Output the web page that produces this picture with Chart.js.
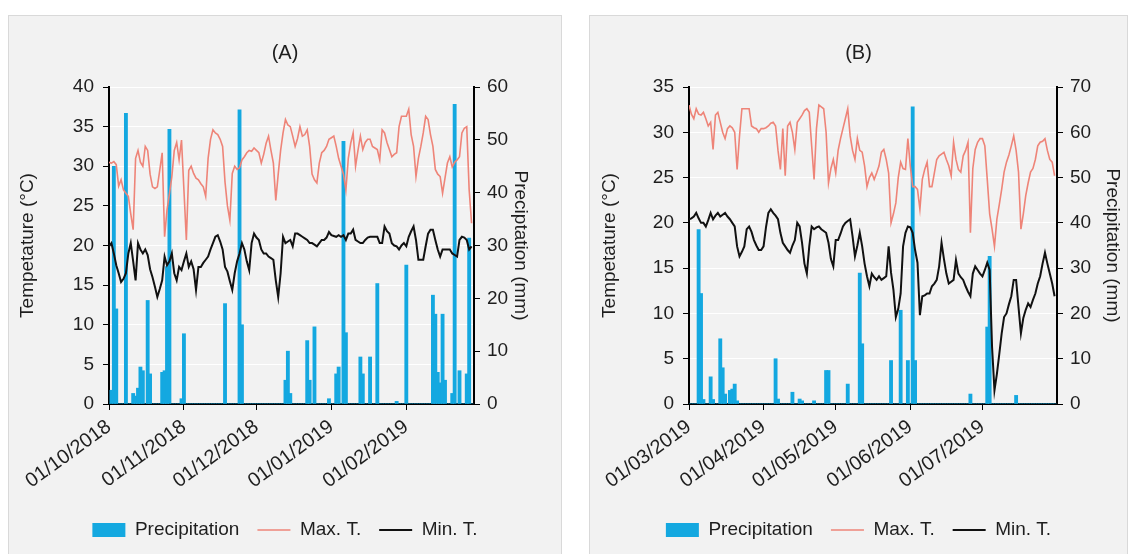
<!DOCTYPE html>
<html><head><meta charset="utf-8">
<script src="https://cdn.jsdelivr.net/npm/chart.js@4.4.1/dist/chart.umd.min.js"></script>
<style>
html,body{margin:0;padding:0;background:#fff;width:1132px;height:554px;overflow:hidden;}
.panel{position:absolute;top:15px;height:545px;background:#f2f2f2;border:1px solid #d9d9d9;box-sizing:border-box;}
#pA{left:8px;width:554px;}
#pB{left:589px;width:539px;}
canvas{position:absolute;left:0;top:0;}
</style></head><body>
<div class="panel" id="pA"><canvas id="cA" width="552" height="538"></canvas></div>
<div class="panel" id="pB"><canvas id="cB" width="537" height="538"></canvas></div>
<script>
// ---- Panel A: 01/10/2018 .. 28/02/2019 (daily) ----
const tickPosA = [0, 31, 61, 92, 123];
const tickLabelsA = ['01/10/2018', '01/11/2018', '01/12/2018', '01/01/2019', '01/02/2019'];
const precipA = [
0,2.6,45,18,0,0,0,55,0,0,
2,1.5,3,7,6.3,0,19.6,5.7,0,0,
0,0,6,6.3,26,52,0,0,0,0,
1,13.3,0,0,0,0,0,0,0,0,
0,0,0,0,0,0,0,0,19,0,
0,0,0,0,55.7,15,0,0,0,0,
0,0,0,0,0,0,0,0,0,0,
0,0,0,4.5,10,2,0,0,0,0,
0,0,12,4.5,0,14.6,0,0,0,0,
0,1,0,0,5.7,7,0,49.7,13.5,0,
0,0,0,0,8.9,5.7,0,0,8.9,0,
0,22.8,0,0,0,0,0,0,0,0.5,
0,0,0,26.3,0,0,0,0,0,0,
0,0,0,0,20.6,17,6,4,17,4.5,
0,0,2,56.7,0,6.3,0,0,5.7,31.4,0];
const maxA = [
30.5,30.4,30.6,30.2,27.5,28.3,27,26.6,26.2,24,22,31,32,30.5,30,32.5,32,29,27.4,27.2,
27.4,29.5,31.7,21.1,24.5,26.5,28.7,32,33,30.8,33.3,27,20.7,29.5,30,29.1,28.5,28.3,27.8,27.4,
26.2,31,33.4,34.6,34.2,34,33.4,32.5,28,25,23.2,29.1,30,29.6,29.8,30.8,31.2,31.7,32,31.9,
32.3,32,31.7,30.4,31.5,32.9,33.8,32,30.4,25.7,29,32,34.2,35.9,35.2,35,33.8,32.5,33.5,35,
33.8,34,34.6,32.5,29,28.3,27.9,30.4,31.7,32,32.5,33.4,33.6,33.8,32.5,31,30,29,27,31,
32.9,34.2,30,32,33.8,32.1,33,33.4,33.4,32.5,32.3,32.1,30.8,34.6,34.2,33,32.1,31.2,31.5,31.7,
35,36.3,36.3,36.3,37.2,34,32.5,28.7,31,32.5,34.2,36.3,35.9,34,32.5,29.6,29,28.7,26.6,28.5,
30.4,31.2,29.9,30.5,30.8,31.2,34.2,34.8,35,27,22.8];
const minA = [
19.9,20.3,19,17.5,16.5,15.4,15.8,16.5,19,20.3,18,15.6,20.3,19.5,19,19.5,18.8,17,16,14.8,
13.5,14.5,15.6,18.6,17.5,18,19,16.5,15.6,17.3,16.9,18,19,17.3,18,17,14.4,17.3,17.3,17.8,
18.2,18.6,19.5,20.3,21.1,21.3,20.5,19.5,17.3,16.7,15.5,14.4,16.5,18,19,20.3,19.5,18,16.9,20.3,
21.5,21,20.7,19.5,19,19,18.6,18.4,18.2,15.6,13.5,16.5,21.1,20.3,20.5,20.7,19.9,21.5,21.5,21.3,
21.1,20.9,20.7,20.3,20.3,20.1,19.9,20.3,20.7,20.7,21,21.7,21.3,21.2,21.1,21.3,21.1,21.3,20.7,21.5,
21.5,22,20.7,20.5,20.3,20.3,20.7,21,21.1,21.1,21.1,21.1,20.3,20.3,22.4,21.8,21.5,20.3,20,19.9,
19.5,20,20.3,19.9,21.1,21.8,22.4,20.7,18.2,18.2,18.2,19.9,21.5,22,22,20.7,19.5,18.6,19.5,19.5,
19.5,19.5,19,18.8,18.6,20.7,21.1,21,20.7,19.5,19.9];

// ---- Panel B: 01/03/2019 .. 31/07/2019 (daily) ----
const tickPosB = [0, 31, 61, 92, 122];
const tickLabelsB = ['01/03/2019', '01/04/2019', '01/05/2019', '01/06/2019', '01/07/2019'];
const precipB = [
0,0,0,0,38.5,24.4,1,0,0,6,
1,0,0,14.4,8,2.2,0,3,3.3,4.4,
0.7,0,0,0,0,0,0,0,0,0,
0,0,0,0,0,0,10,1.1,0,0,
0,0,0,2.6,0,0,1.1,0.7,0,0,
0,0,0.7,0,0,0,0,7.4,7.4,0,
0,0,0,0,0,0,4.4,0,0,0,
0,28.9,13.3,0,0,0,0,0,0,0,
0,0,0,0,9.6,0,0,0,20.7,0,
0,9.6,0,65.6,9.6,0,0,0,0,0,
0,0,0,0,0,0,0,0,0,0,
0,0,0,0,0,0,0,2.2,0,0,
0,0,0,0,17,32.6,0,0,0,0,
0,0,0,0,0,0,1.9,0,0,0,
0,0,0,0,0,0,0,0,0,0,0,0,0];
const maxB = [
33,32,31.5,32.6,32,31.9,32.2,31.5,30.7,31.1,28.1,31.9,32.2,31.1,30,29.3,30.4,30.7,30.5,30,
25.9,29.6,32.6,32.6,32.6,32.6,30.7,30.5,30.4,30,30.4,30.4,30.5,30.7,31,31.1,30.7,28,25.9,30.4,
25.2,30.7,31.1,30,28.1,31.1,31.5,31.9,32.4,32.6,32.2,28.5,24.8,30.4,33,32.8,32.6,30,24.4,26,
27,25.5,28,29.3,30.4,31.5,32.6,29.6,28,27,29.3,28,27.8,26.3,24,25,25.5,24.8,25.5,26.3,
27.8,28.1,27,25.5,20,21,22.2,25,26.7,26,25.9,29.3,26.3,24,24,23.7,21.5,24.8,25.9,26.7,
24,24,25.5,27,27.4,27.6,27.8,27,26.3,25.2,28.9,27,25.9,25.6,27.4,28,28.9,18.9,26,28.1,
28.9,29.3,29.3,28.5,24.8,21,19.3,17.4,20.4,22,23.7,25.6,26.7,27.5,28.5,29.6,28,25.6,19.3,21,
23,24.4,25.6,26,27,28.5,28.9,29,29.3,28,27,26.7,25.2];
const minB = [
20.4,20.5,20.7,21.1,20.5,20,20,19.6,20.3,21.1,20.4,20.8,21.1,20.7,20.9,21.1,20.7,20.4,20,19.6,
17.4,16.3,16.8,17.4,19.3,19.6,19,18.1,17.5,17,17,17.4,19.5,21.1,21.5,21.1,20.8,20.4,18.9,17.8,
17.4,17,16.7,17.5,18.1,20,19.6,17.8,15.5,14.4,17.4,19.6,19.3,19.5,19.6,19.3,19.1,18.9,17.8,16,
15.2,18.1,18.1,18.8,19.6,20,20.2,20.4,18.5,16.3,17.5,18.9,17.4,15.5,14.1,13,14.4,14,13.7,14.1,
13.7,13.9,14.1,17.4,14.5,12.6,9.6,10.5,12.2,17.4,18.9,19.6,19.5,18.9,17,15.6,9.8,11.9,12,12.2,
12.2,13,13.3,13.7,15.2,17.8,16,14.4,13.3,13.5,13.7,15.9,14.4,14,13.7,13,12.4,11.9,14.4,15.2,
14.8,14.4,14.1,14.8,15.6,14.8,6.3,1.5,3.3,5.5,7.8,9.6,10,11,11.9,13.7,13.7,10.7,7.8,9.5,
10.4,11.1,10.7,11.5,12.2,13.3,14.1,15.5,16.7,15.5,14.4,13.3,11.9];

const TXT = '#1e1e1e';
Chart.defaults.font.family = "'Liberation Sans', Arial, sans-serif";
Chart.defaults.color = TXT;

function toXY(arr) { return arr.map((v, i) => ({x: i, y: v})); }

function makeChart(id, o) {
  return new Chart(document.getElementById(id), {
    type: 'line',
    data: {
      datasets: [
        {type: 'bar', label: 'Precipitation', data: toXY(o.precip), yAxisID: 'y1',
         backgroundColor: '#14A8E0', borderWidth: 0, barThickness: 3.2,
         order: 3, pointStyle: 'rect'},
        {type: 'line', label: 'Max. T.', data: toXY(o.max), yAxisID: 'y',
         borderColor: '#EE8478', backgroundColor: '#EE8478', borderWidth: 1.6, pointRadius: 0,
         tension: 0, order: 2, pointStyle: 'line'},
        {type: 'line', label: 'Min. T.', data: toXY(o.min), yAxisID: 'y',
         borderColor: '#111', backgroundColor: '#111', borderWidth: 2, pointRadius: 0,
         tension: 0, order: 1, pointStyle: 'line'}
      ]
    },
    options: {
      responsive: false, animation: false, devicePixelRatio: 1,
      layout: {padding: {bottom: 4.5}},
      plugins: {
        tooltip: {enabled: false},
        title: {display: true, text: o.title, color: TXT, font: {size: 20, weight: 'normal'},
                padding: {top: 25, bottom: 22}},
        legend: {position: 'bottom',
          labels: {usePointStyle: true, pointStyleWidth: 33, boxHeight: 14, padding: 18,
                   color: TXT, font: {size: 19},
                   sort: (a, b) => a.datasetIndex - b.datasetIndex}}
      },
      scales: {
        x: {type: 'linear', min: 0, max: o.days, offset: false,
            afterBuildTicks: s => { s.ticks = o.tickPos.map(v => ({value: v})); },
            afterFit: s => { s.height = 98.5; },
            ticks: {autoSkip: false, maxRotation: 36, minRotation: 36, padding: 5, color: TXT,
                    font: {size: 20},
                    callback: v => o.tickLabels[o.tickPos.indexOf(v)]},
            grid: {drawOnChartArea: false, tickColor: '#000', tickLength: 6, offset: false},
            border: {color: '#000', width: 2}},
        y: {position: 'left', min: 0, max: o.yMax,
            afterFit: s => { s.width = o.leftW; },
            ticks: {stepSize: 5, padding: 9, color: TXT, font: {size: 19}},
            grid: {color: '#ffffff', lineWidth: 1, tickColor: '#000', tickLength: 6},
            border: {color: '#000', width: 2},
            title: {display: true, text: 'Tempetature (°C)', color: TXT, font: {size: 19},
                    padding: {top: o.leftTitlePad, bottom: 0}}},
        y1: {position: 'right', min: 0, max: o.pMax,
            afterFit: s => { s.width = o.rightW; },
            ticks: {stepSize: 10, padding: 7, color: TXT, font: {size: 19}},
            grid: {drawOnChartArea: false, tickColor: '#000', tickLength: 6},
            border: {color: '#000', width: 2},
            title: {display: true, text: o.rightTitle, color: TXT, font: {size: 19},
                    padding: {top: o.rightTitlePad, bottom: 0}}}
      }
    }
  });
}

makeChart('cA', {title: '(A)', precip: precipA, max: maxA, min: minA, days: 151,
  tickPos: tickPosA, tickLabels: tickLabelsA, yMax: 40, pMax: 60,
  leftW: 100, rightW: 87, leftTitlePad: 7.6, rightTitlePad: 29.6,
  rightTitle: 'Preciptation (mm)'});
makeChart('cB', {title: '(B)', precip: precipB, max: maxB, min: minB, days: 153,
  tickPos: tickPosB, tickLabels: tickLabelsB, yMax: 35, pMax: 70,
  leftW: 99, rightW: 70, leftTitlePad: 8.6, rightTitlePad: 3.6,
  rightTitle: 'Precipitation (mm)'});
</script>
</body></html>
